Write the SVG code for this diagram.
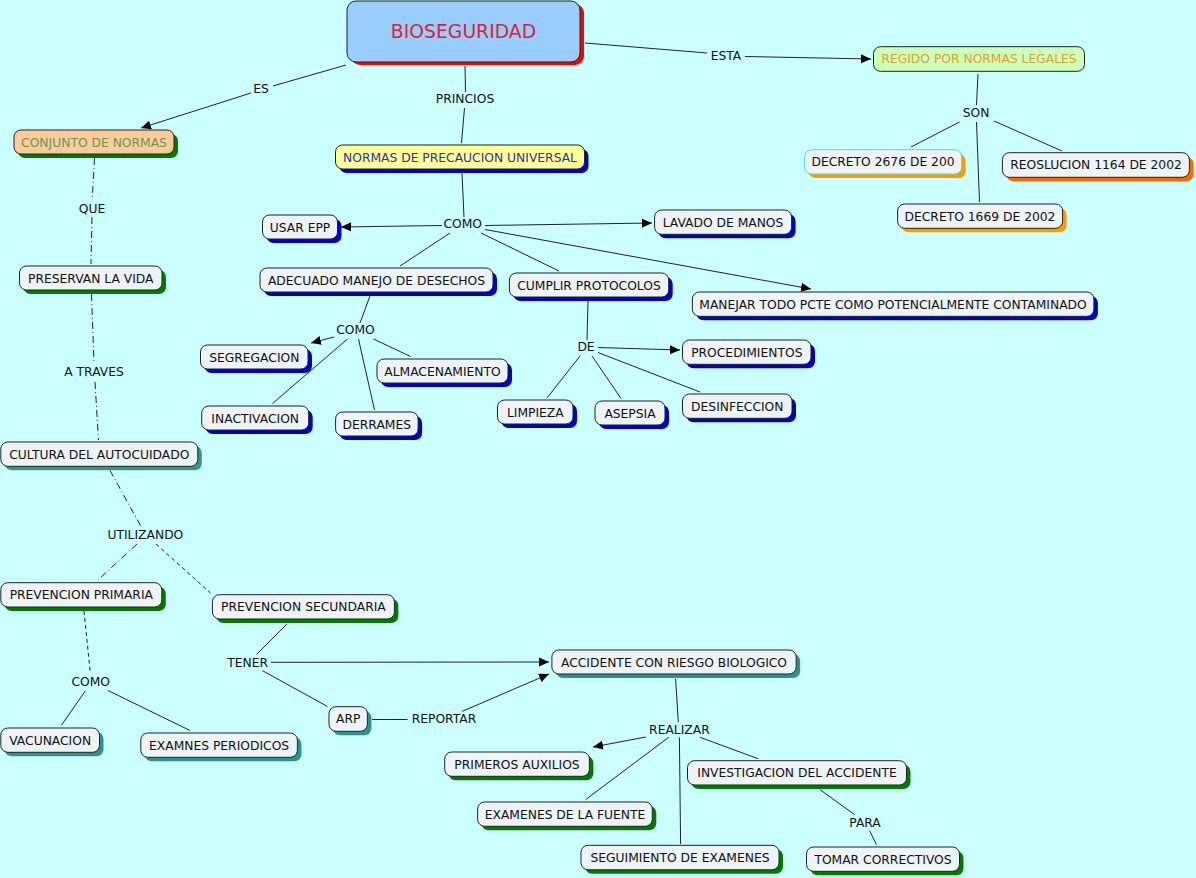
<svg xmlns="http://www.w3.org/2000/svg" width="1196" height="878" viewBox="0 0 1196 878">
<style>
text{font-family:"DejaVu Sans",Verdana,sans-serif;font-size:12.3px;fill:#111;text-anchor:middle}
.box{fill:#eef3f6;stroke:#222;stroke-width:1}
.c line{stroke:#222;stroke-width:1;fill:none}
.dd{stroke-dasharray:7,3,1,3}
.da{stroke-dasharray:4,3}
.sb{fill:#0000d0}.sg{fill:#007a00}.st{fill:#2f9090}.sc{fill:#339977}.so{fill:#ff9900}.sr{fill:#ff6600}
</style>
<defs>
<marker id="ah" markerUnits="userSpaceOnUse" markerWidth="11" markerHeight="10" refX="10" refY="4.5" orient="auto"><path d="M0,0 L10,4.5 L0,9 z" fill="#000"/></marker>
</defs>
<rect width="1196" height="878" fill="#ccffff"/>
<g class="c" id="connectors">
<line x1="346" y1="65" x2="273" y2="86"/>
<line x1="251" y1="93" x2="141" y2="128" marker-end="url(#ah)"/>
<line x1="465" y1="66" x2="465.5" y2="92"/>
<line x1="464.5" y1="108" x2="461.5" y2="143"/>
<line x1="585" y1="43" x2="707" y2="53"/>
<line x1="745" y1="56.5" x2="871" y2="59" marker-end="url(#ah)"/>
<line x1="978" y1="74" x2="976.5" y2="105"/>
<line x1="959.5" y1="122" x2="911" y2="147"/>
<line x1="976.5" y1="122" x2="979.5" y2="202"/>
<line x1="994" y1="121" x2="1062" y2="151"/>
<line x1="462" y1="173" x2="464" y2="217"/>
<line x1="442" y1="225.5" x2="341" y2="227" marker-end="url(#ah)"/>
<line x1="485" y1="225.5" x2="652" y2="223" marker-end="url(#ah)"/>
<line x1="450" y1="233" x2="400" y2="266"/>
<line x1="481" y1="233" x2="559" y2="271"/>
<line x1="485" y1="229.5" x2="811" y2="289" marker-end="url(#ah)"/>
<line x1="370" y1="296" x2="360" y2="323"/>
<line x1="334" y1="337" x2="311" y2="343" marker-end="url(#ah)"/>
<line x1="347.5" y1="339" x2="272.5" y2="403.5"/>
<line x1="358.5" y1="339" x2="374.5" y2="410"/>
<line x1="373.5" y1="339" x2="410.5" y2="356.5"/>
<line x1="588" y1="301" x2="587" y2="340"/>
<line x1="598" y1="347.5" x2="680" y2="350" marker-end="url(#ah)"/>
<line x1="580" y1="356" x2="547" y2="398"/>
<line x1="592" y1="356" x2="621" y2="398.5"/>
<line x1="598" y1="352.5" x2="700" y2="392"/>
<line class="dd" x1="94.5" y1="158" x2="92.2" y2="200"/>
<line class="dd" x1="92" y1="217" x2="91" y2="264"/>
<line class="dd" x1="91.5" y1="294" x2="94" y2="363"/>
<line class="dd" x1="95" y1="382" x2="98.5" y2="440"/>
<line class="dd" x1="110" y1="470.5" x2="141" y2="526.5"/>
<line class="dd" x1="137" y1="544" x2="98.5" y2="579.5"/>
<line class="da" x1="156" y1="544" x2="210.5" y2="593"/>
<line class="da" x1="84" y1="611" x2="90.3" y2="673"/>
<line x1="85.3" y1="691" x2="61.2" y2="725.5"/>
<line x1="108" y1="690.5" x2="190" y2="730.5"/>
<line x1="287" y1="624" x2="256.5" y2="654.5"/>
<line x1="271" y1="662.3" x2="549" y2="662" marker-end="url(#ah)"/>
<line x1="262.5" y1="670.7" x2="327.5" y2="706.5"/>
<line x1="372" y1="719.5" x2="407.5" y2="719.5"/>
<line x1="462.3" y1="711.3" x2="549" y2="674" marker-end="url(#ah)"/>
<line x1="675.6" y1="678.7" x2="678.3" y2="722"/>
<line x1="645.8" y1="737" x2="593" y2="747" marker-end="url(#ah)"/>
<line x1="668.7" y1="737.3" x2="585.5" y2="799.7"/>
<line x1="679.4" y1="737.3" x2="680.6" y2="844"/>
<line x1="700" y1="737.3" x2="758" y2="758.7"/>
<line x1="820" y1="789.7" x2="854.7" y2="814.7"/>
<line x1="869.6" y1="830.7" x2="876.5" y2="844.7"/>
</g>
<g id="labels">
<text x="261" y="93.4">ES</text>
<text x="465" y="103.4">PRINCIOS</text>
<text x="726" y="60">ESTA</text>
<text x="976" y="117">SON</text>
<text x="462.7" y="228.4">COMO</text>
<text x="355.5" y="334.4">COMO</text>
<text x="586" y="351.4">DE</text>
<text x="92" y="213.4">QUE</text>
<text x="94" y="376.4">A TRAVES</text>
<text x="145.4" y="539">UTILIZANDO</text>
<text x="90.7" y="686">COMO</text>
<text x="247.6" y="666.6">TENER</text>
<text x="444" y="723">REPORTAR</text>
<text x="679.4" y="734">REALIZAR</text>
<text x="865" y="826.6">PARA</text>
</g>
<g id="n-bio"><rect x="351" y="4" width="233" height="61" rx="9" fill="#ff0000"/><rect class="box" x="347" y="1" width="233" height="61" rx="9" style="fill:#99ccff"/><text x="463.5" y="38" style="font-size:18.8px;fill:#dd2233">BIOSEGURIDAD</text></g>
<g id="n-conjunto"><rect class="sg" x="18" y="134" width="160" height="24" rx="7"/><rect class="box" x="14" y="130" width="160" height="24" rx="7" style="fill:#ffcc99"/><text x="94" y="146.5" style="fill:#5f9955">CONJUNTO DE NORMAS</text></g>
<g id="n-normasprec"><rect class="sb" x="339.5" y="149" width="249" height="24" rx="7"/><rect class="box" x="335.5" y="145" width="249" height="24" rx="7" style="fill:#ffff99"/><text x="460" y="161.5" style="fill:#333399">NORMAS DE PRECAUCION UNIVERSAL</text></g>
<g id="n-regido"><rect class="box" x="873.5" y="46.7" width="211" height="24.6" rx="7" style="fill:#ccffbb"/><text x="979" y="63.4" style="fill:#e0a030">REGIDO POR NORMAS LEGALES</text></g>
<g id="n-dec2676"><rect class="so" x="808.6" y="153.7" width="157" height="24.3" rx="7"/><rect class="box" x="804.6" y="149.7" width="157" height="24.3" rx="7" style="stroke:#44ddee"/><text x="883" y="166.3">DECRETO 2676 DE 200</text></g>
<g id="n-reos"><rect class="sr" x="1006.4" y="156.7" width="187" height="24.6" rx="7"/><rect class="box" x="1002.4" y="152.7" width="187" height="24.6" rx="7"/><text x="1096" y="169.4">REOSLUCION 1164 DE 2002</text></g>
<g id="n-dec1669"><rect class="so" x="901.6" y="208" width="165" height="24.3" rx="7"/><rect class="box" x="897.6" y="204" width="165" height="24.3" rx="7"/><text x="980" y="220.6">DECRETO 1669 DE 2002</text></g>
<g id="n-lavado"><rect class="sb" x="658.6" y="214" width="137" height="24.3" rx="7"/><rect class="box" x="654.6" y="210" width="137" height="24.3" rx="7"/><text x="723" y="226.6">LAVADO DE MANOS</text></g>
<g id="n-usarepp"><rect class="sb" x="266.5" y="219" width="75" height="24" rx="7"/><rect class="box" x="262.5" y="215" width="75" height="24" rx="7"/><text x="300" y="231.5">USAR EPP</text></g>
<g id="n-adecuado"><rect class="sb" x="264" y="272" width="233" height="24" rx="7"/><rect class="box" x="260" y="268" width="233" height="24" rx="7"/><text x="376.5" y="284.5">ADECUADO MANEJO DE DESECHOS</text></g>
<g id="n-cumplir"><rect class="sb" x="513.4" y="277" width="159.3" height="24" rx="7"/><rect class="box" x="509.4" y="273" width="159.3" height="24" rx="7"/><text x="589" y="289.5">CUMPLIR PROTOCOLOS</text></g>
<g id="n-manejar"><rect class="sb" x="696.4" y="296" width="401.5" height="24.3" rx="7"/><rect class="box" x="692.4" y="292" width="401.5" height="24.3" rx="7"/><text x="893" y="308.6">MANEJAR TODO PCTE COMO POTENCIALMENTE CONTAMINADO</text></g>
<g id="n-segregacion"><rect class="sb" x="204.5" y="349" width="107.5" height="24" rx="7"/><rect class="box" x="200.5" y="345" width="107.5" height="24" rx="7"/><text x="254.3" y="361.5">SEGREGACION</text></g>
<g id="n-almacen"><rect class="sb" x="381" y="363" width="131" height="24" rx="7"/><rect class="box" x="377" y="359" width="131" height="24" rx="7"/><text x="442.5" y="375.5">ALMACENAMIENTO</text></g>
<g id="n-inactiv"><rect class="sb" x="205.7" y="410" width="107" height="24" rx="7"/><rect class="box" x="201.7" y="406" width="107" height="24" rx="7"/><text x="255.2" y="422.5">INACTIVACION</text></g>
<g id="n-derrames"><rect class="sb" x="339.6" y="416" width="82.5" height="24" rx="7"/><rect class="box" x="335.6" y="412" width="82.5" height="24" rx="7"/><text x="376.8" y="428.5">DERRAMES</text></g>
<g id="n-proced"><rect class="sb" x="686.5" y="344" width="128.5" height="24.3" rx="7"/><rect class="box" x="682.5" y="340" width="128.5" height="24.3" rx="7"/><text x="746.8" y="356.6">PROCEDIMIENTOS</text></g>
<g id="n-limpieza"><rect class="sb" x="501.5" y="404" width="75.5" height="24" rx="7"/><rect class="box" x="497.5" y="400" width="75.5" height="24" rx="7"/><text x="535.3" y="416.5">LIMPIEZA</text></g>
<g id="n-asepsia"><rect class="sb" x="599" y="405" width="70" height="24" rx="7"/><rect class="box" x="595" y="401" width="70" height="24" rx="7"/><text x="630" y="417.5">ASEPSIA</text></g>
<g id="n-desinf"><rect class="sb" x="686.5" y="398" width="109.5" height="24.3" rx="7"/><rect class="box" x="682.5" y="394" width="109.5" height="24.3" rx="7"/><text x="737.3" y="410.6">DESINFECCION</text></g>
<g id="n-preservan"><rect class="sg" x="23.5" y="270" width="142.5" height="24" rx="7"/><rect class="box" x="19.5" y="266" width="142.5" height="24" rx="7"/><text x="90.8" y="282.5">PRESERVAN LA VIDA</text></g>
<g id="n-cultura"><rect class="sc" x="4.8" y="446" width="197" height="24.3" rx="7"/><rect class="box" x="0.8" y="442" width="197" height="24.3" rx="7"/><text x="99.3" y="458.6">CULTURA DEL AUTOCUIDADO</text></g>
<g id="n-prevprim"><rect class="sg" x="4.8" y="586.7" width="161" height="24.3" rx="7"/><rect class="box" x="0.8" y="582.7" width="161" height="24.3" rx="7"/><text x="81.3" y="599.3">PREVENCION PRIMARIA</text></g>
<g id="n-prevsec"><rect class="sg" x="216.4" y="598.7" width="182" height="24.3" rx="7"/><rect class="box" x="212.4" y="594.7" width="182" height="24.3" rx="7"/><text x="303.4" y="611.3">PREVENCION SECUNDARIA</text></g>
<g id="n-vacunacion"><rect class="st" x="4.8" y="732" width="98.7" height="24.3" rx="7"/><rect class="box" x="0.8" y="728" width="98.7" height="24.3" rx="7"/><text x="50.2" y="744.6">VACUNACION</text></g>
<g id="n-examnes"><rect class="st" x="144.8" y="737" width="156.6" height="24.3" rx="7"/><rect class="box" x="140.8" y="733" width="156.6" height="24.3" rx="7"/><text x="219.1" y="749.6">EXAMNES PERIODICOS</text></g>
<g id="n-arp"><rect class="st" x="333" y="710.7" width="38.4" height="24.6" rx="7"/><rect class="box" x="329" y="706.7" width="38.4" height="24.6" rx="7"/><text x="348.2" y="723.4">ARP</text></g>
<g id="n-accidente"><rect class="st" x="555.9" y="654" width="244.3" height="24" rx="7"/><rect class="box" x="551.9" y="650" width="244.3" height="24" rx="7"/><text x="674" y="666.5">ACCIDENTE CON RIESGO BIOLOGICO</text></g>
<g id="n-primeros"><rect class="sg" x="448.7" y="756" width="144.7" height="24.3" rx="7"/><rect class="box" x="444.7" y="752" width="144.7" height="24.3" rx="7"/><text x="517" y="768.6">PRIMEROS AUXILIOS</text></g>
<g id="n-investig"><rect class="sg" x="691.5" y="764.7" width="219" height="24.3" rx="7"/><rect class="box" x="687.5" y="760.7" width="219" height="24.3" rx="7"/><text x="797" y="777.3">INVESTIGACION DEL ACCIDENTE</text></g>
<g id="n-examfuente"><rect class="sg" x="481.6" y="806" width="174.7" height="24.3" rx="7"/><rect class="box" x="477.6" y="802" width="174.7" height="24.3" rx="7"/><text x="565" y="818.6">EXAMENES DE LA FUENTE</text></g>
<g id="n-seguim"><rect class="sg" x="585" y="849.3" width="198" height="24.5" rx="7"/><rect class="box" x="581" y="845.3" width="198" height="24.5" rx="7"/><text x="680" y="862">SEGUIMIENTO DE EXAMENES</text></g>
<g id="n-tomar"><rect class="sg" x="810.5" y="851" width="153" height="24.3" rx="7"/><rect class="box" x="806.5" y="847" width="153" height="24.3" rx="7"/><text x="883" y="863.6">TOMAR CORRECTIVOS</text></g>
</svg>
